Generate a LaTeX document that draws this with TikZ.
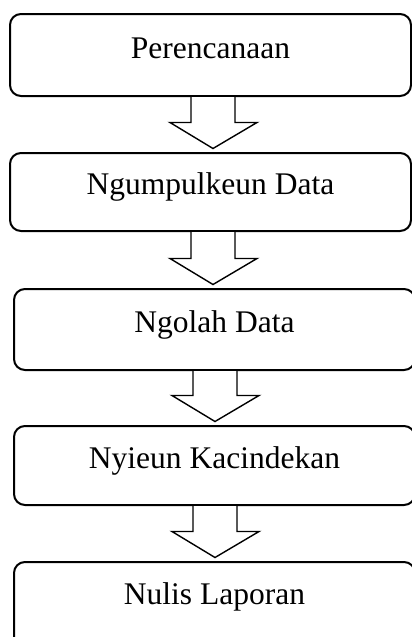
\documentclass[tikz,border=0pt]{standalone}
\usepackage{fontspec}
\setmainfont{Liberation Serif}
\usetikzlibrary{calc}
\tikzset{
  stagebox/.style={draw=black, line width=2pt, rounded corners=11pt, inner sep=0pt, anchor=north,
    font=\fontsize{31.5}{36}\selectfont, fill=white},
  arrowline/.style={draw=black, line width=1.4pt, fill=white, line join=miter}
}
\newcommand\blockarr[3]{%
  \draw[arrowline] let \p1=(#1.south), \p2=(#2.north) in
    (#3-22,\y1) -- (#3-22,\y2+29.5) -- (#3-43,\y2+29.5) -- (#3,\y2+3.5)
    -- (#3+44,\y2+29.5) -- (#3+22,\y2+29.5) -- (#3+22,\y1);}
\begin{document}
\begin{tikzpicture}[x=1pt,y=-1pt]
\useasboundingbox (0,0) rectangle (412,637);
\clip (0,0) rectangle (412,637);
\node[stagebox, minimum width=401pt, text height=44pt, text depth=38pt] (b1) at (210.5,13) {Perencanaan};
\node[stagebox, minimum width=401pt, text height=41pt, text depth=37pt] (b2) at (210.5,152) {Ngumpulkeun Data};
\node[stagebox, minimum width=401pt, text height=43pt, text depth=38pt] (b3) at (214.5,288) {Ngolah Data};
\node[stagebox, minimum width=401pt, text height=42pt, text depth=37pt] (b4) at (214.5,425) {Nyieun Kacindekan};
\node[stagebox, minimum width=401pt, text height=42pt, text depth=45pt] (b5) at (214.5,561) {Nulis Laporan};
\blockarr{b1}{b2}{213pt}
\blockarr{b2}{b3}{213pt}
\blockarr{b3}{b4}{215pt}
\blockarr{b4}{b5}{215pt}
\end{tikzpicture}
\end{document}
